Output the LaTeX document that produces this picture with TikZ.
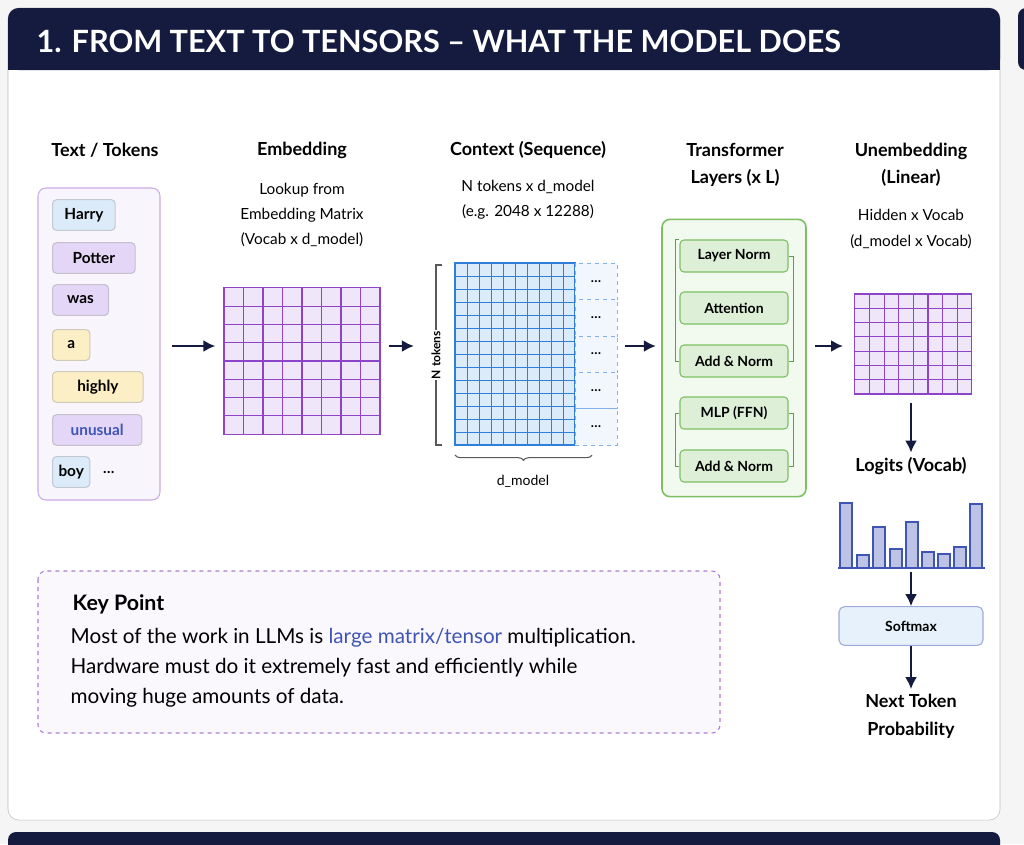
\documentclass[tikz,border=0pt]{standalone}
\usepackage{fontspec}
\setmainfont{Lato}
\usetikzlibrary{arrows.meta, positioning, decorations.pathreplacing}
\definecolor{navy}{HTML}{141B3F}
\definecolor{tokblue}{HTML}{DCEBFA}
\definecolor{tokpurple}{HTML}{E4D6F7}
\definecolor{tokyellow}{HTML}{FCEFC6}
\definecolor{matpurple}{HTML}{8E44C8}
\definecolor{matblue}{HTML}{2F7FD8}
\definecolor{boxgreen}{HTML}{7CC063}
\definecolor{accent}{HTML}{3F55B5}
\tikzset{
    tok/.style={draw=#1!70!black!60, fill=#1, rounded corners=3pt, line width=0.8pt, minimum height=23pt, anchor=west, font=\bfseries\fontsize{11.5}{13}\selectfont},
    title/.style={font=\bfseries\fontsize{13.5}{16}\selectfont},
    sub/.style={font=\fontsize{11.5}{14}\selectfont},
    layer/.style={draw=boxgreen, fill=boxgreen!25, rounded corners=3pt, line width=0.8pt, minimum width=81pt, minimum height=24pt, font=\bfseries\fontsize{10.5}{12}\selectfont},
    flow/.style={-{Latex[length=9pt,width=9pt]}, line width=1.6pt, navy}
}
\begin{document}
\begin{tikzpicture}[x=0.75pt, y=-0.75pt]
        \fill[gray!8] (0,0) rectangle (1024,844);
        \useasboundingbox (0,0) rectangle (1024,844);

        % panels
        \draw[gray!50, fill=white, rounded corners=8pt] (8,8) rectangle (1000,820);
        \fill[navy, rounded corners=8pt] (8,8) rectangle (1000,70);
        \fill[navy] (8,40) rectangle (1000,70);
        \fill[navy, rounded corners=6pt] (1018,8) rectangle (1040,70);
        \fill[navy, rounded corners=6pt] (8,832) rectangle (1000,860);
        \node[anchor=west, white, font=\bfseries\fontsize{23}{26}\selectfont] (head) at (32,41) {1. FROM TEXT TO TENSORS -- WHAT THE MODEL DOES};

        % column titles
        \node[title] (ttok) at (105,150) {Text / Tokens};
        \node[title] (temb) at (302,150) {Embedding};
        \node[title] (tctx) at (528,150) {Context (Sequence)};
        \node[title, align=center] (ttrf) at (735,165) {Transformer\\[4pt]Layers (x L)};
        \node[title, align=center] (tune) at (911,165) {Unembedding\\[4pt](Linear)};
        \node[sub, align=center] (semb) at (302,215) {Lookup from\\[5pt]Embedding Matrix\\[5pt](Vocab x d\_model)};
        \node[sub, align=center] (sctx) at (528,200) {N tokens x d\_model\\[5pt](e.g. 2048 x 12288)};
        \node[sub, align=center] (sune) at (911,229) {Hidden x Vocab\\[5pt](d\_model x Vocab)};

        % tokens
        \draw[matpurple!45, fill=tokpurple!25, rounded corners=6pt, line width=0.8pt] (38,188) rectangle (160,500);
        \node[tok=tokblue, minimum width=47pt] (harry) at (52,215) {Harry};
        \node[tok=tokpurple, minimum width=62pt] (potter) at (52,258) {Potter};
        \node[tok=tokpurple, minimum width=42pt] (was) at (52,300) {was};
        \node[tok=tokyellow, minimum width=28pt] (a) at (52,345) {a};
        \node[tok=tokyellow, minimum width=68pt] (highly) at (52,387) {highly};
        \node[tok=tokpurple, minimum width=67pt, text=accent] (unusual) at (52,430) {unusual};
        \node[tok=tokblue, minimum width=28pt] (boy) at (52,472) {boy};
        \node[right=6pt of boy, font=\bfseries\fontsize{11}{13}\selectfont] (more) {\dots};
        \coordinate (tokout) at (172,346);

        % embedding matrix
        \node[draw=matpurple, fill=tokpurple!60, line width=1pt, minimum width=117pt, minimum height=110pt, inner sep=0pt] (emb) at (302,361) {};
        \foreach \i in {1,...,7} {
            \draw[matpurple, line width=0.8pt] (224+19.5*\i,288) -- (224+19.5*\i,434);
            \draw[matpurple, line width=0.8pt] (224,288+18.25*\i) -- (380,288+18.25*\i);
        }

        % context matrix
        \node[draw=matblue, fill=tokblue, line width=1pt, minimum width=90pt, minimum height=136.5pt, inner sep=0pt] (ctx) at (515,354) {};
        \foreach \i in {1,...,9} {
            \draw[matblue, line width=0.6pt] (455+12*\i,263) -- (455+12*\i,445);
        }
        \foreach \i in {1,...,13} {
            \draw[matblue, line width=0.6pt] (455,263+13*\i) -- (575,263+13*\i);
        }
        \foreach \i in {0,...,4} {
            \node[draw=matblue!60, dashed, fill=tokblue!40, minimum width=31.5pt, minimum height=27.3pt, inner sep=0pt, font=\bfseries] (dots\i) at (596,281.2+36.4*\i) {\dots};
        }
        \draw[gray!70!black, line width=0.8pt] (442,265) -- (436,265) -- (436,445) -- (442,445);
        \node[rotate=90, fill=white, inner sep=1pt, font=\bfseries\fontsize{9}{10}\selectfont] (ntok) at (436,355) {N tokens};
        \draw[gray!70!black, line width=0.8pt, decorate, decoration={brace, mirror, amplitude=4pt}] (455,455) -- (592,455);
        \node[font=\fontsize{10.5}{12}\selectfont] (dmod) at (523,481) {d\_model};

        % transformer block
        \node[draw=boxgreen, fill=boxgreen!10, rounded corners=6pt, line width=1.2pt, minimum width=108pt, minimum height=208pt] (trf) at (734,358) {};
        \node[layer] (ln) at (734,256) {Layer Norm};
        \node[layer] (att) at (734,308) {Attention};
        \node[layer] (an1) at (734,361) {Add \& Norm};
        \node[layer] (mlp) at (734,413) {MLP (FFN)};
        \node[layer] (an2) at (734,466) {Add \& Norm};
        \draw[boxgreen!80!black, line width=0.6pt] (ln.north west) -- ++(-4,0) |- (an1.west);
        \draw[boxgreen!80!black, line width=0.6pt] (ln.east) -- ++(5,0) |- (an1.east);
        \draw[boxgreen!80!black, line width=0.6pt] (mlp.west) -- ++(-4,0) |- (an2.west);
        \draw[boxgreen!80!black, line width=0.6pt] (mlp.east) -- ++(5,0) |- (an2.east);

        % unembedding matrix
        \node[draw=matpurple, fill=tokpurple!60, line width=1pt, minimum width=88pt, minimum height=75pt, inner sep=0pt] (une) at (913,344) {};
        \foreach \i in {1,...,7} {
            \draw[matpurple, line width=0.8pt] (855+14.6*\i,294) -- (855+14.6*\i,394);
        }
        \foreach \i in {1,...,6} {
            \draw[matpurple, line width=0.8pt] (855,294+14.3*\i) -- (971,294+14.3*\i);
        }
        \node[title] (logit) at (911,466) {Logits (Vocab)};

        % bar chart
        \draw[accent, line width=1pt] (838,568) -- (985,568);
        \foreach \x/\t in {840/503, 857/555, 873/527, 890/549, 906/522, 922/552, 938/554, 954/547, 970/504} {
            \draw[accent, fill=accent!35, line width=0.8pt] (\x,568) rectangle (\x+12,\t);
        }
        \coordinate (barsout) at (911,572);
        \node[draw=accent!50, fill=tokblue!70, rounded corners=4pt, line width=0.8pt, minimum width=108pt, minimum height=29pt, font=\bfseries\fontsize{10.5}{12}\selectfont] (soft) at (911,626) {Softmax};
        \node[title, align=center] (next) at (911,716) {Next Token\\[5pt]Probability};

        % flow
        \draw[flow, shorten >=6pt] (tokout) -- (tokout -| emb.west);
        \draw[flow, shorten <=6pt, shorten >=12pt] (emb.east |- tokout) -- (ntok.north |- tokout);
        \draw[flow, shorten <=6pt, shorten >=4pt] (dots0.east |- tokout) -- (trf.west |- tokout);
        \draw[flow, shorten <=6pt, shorten >=8pt] (trf.east |- tokout) -- (une.west |- tokout);
        \draw[flow, shorten <=6pt] (une.south -| logit) -- (logit.north);
        \draw[flow] (barsout) -- (soft);
        \draw[flow] (soft) -- (next);

        % key point
        \draw[matpurple!70, dashed, fill=tokpurple!20, rounded corners=6pt, line width=0.8pt] (38,571) rectangle (720,733);
        \node[anchor=west, font=\bfseries\fontsize{16}{18}\selectfont] (key) at (68,604) {Key Point};
        \node[anchor=north west, align=left, font=\fontsize{15.5}{22.5}\selectfont] (keytxt) at (66,624) {Most of the work in LLMs is \textcolor{accent}{large matrix/tensor} multiplication.\\Hardware must do it extremely fast and efficiently while\\moving huge amounts of data.};
\end{tikzpicture}
\end{document}
